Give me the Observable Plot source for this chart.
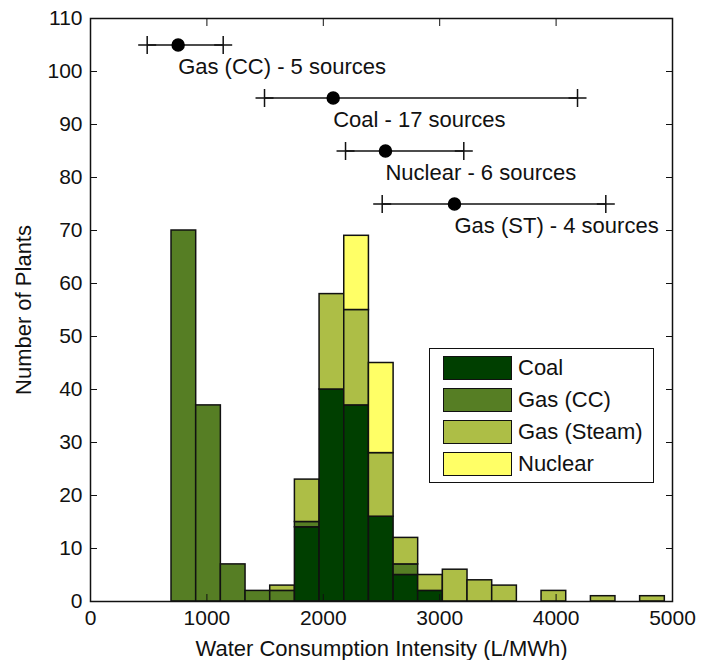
<!DOCTYPE html>
<html>
<head>
<meta charset="utf-8">
<script src="https://cdn.jsdelivr.net/npm/d3@7"></script>
<script src="https://cdn.jsdelivr.net/npm/@observablehq/plot@0.6"></script>
<style>
  html, body { margin: 0; padding: 0; background: white; }
  #wrap { position: relative; width: 710px; height: 660px; font-family: "Liberation Sans", Arial, sans-serif; }
  #legend { position: absolute; left: 429px; top: 348px; width: 223px; height: 133px; border: 1.5px solid #111; background: white; box-sizing: content-box; }
  .row { position: absolute; left: 13px; height: 24px; display: flex; align-items: center; }
  .sw { width: 67px; height: 22px; border: 1.5px solid #111; margin-right: 6px; }
  .lab { font-size: 22px; color: #111; }
</style>
</head>
<body>
<div id="wrap"></div>
<script>
// Histogram bin edges (L/MWh) and stacked counts per source
const binEdges = [696, 908, 1120, 1332, 1544, 1756, 1968, 2180, 2392, 2604, 2815, 3027, 3239, 3451, 3663, 3875, 4087, 4299, 4510, 4722, 4934];
const coal     = [0, 0, 0, 0, 0, 14, 40, 37, 16, 5, 2, 0, 0, 0, 0, 0, 0, 0, 0, 0];
const gasCC    = [70, 37, 7, 2, 2, 1, 0, 0, 0, 2, 0, 0, 0, 0, 0, 0, 0, 0, 0, 0];
const gasSteam = [0, 0, 0, 0, 1, 8, 18, 18, 12, 5, 3, 6, 4, 3, 0, 2, 0, 1, 0, 1];
const nuclear  = [0, 0, 0, 0, 0, 0, 0, 14, 17, 0, 0, 0, 0, 0, 0, 0, 0, 0, 0, 0];
const seriesNames = ["Coal", "Gas (CC)", "Gas (Steam)", "Nuclear"];
const seriesColors = ["#003f00", "#567e24", "#adbe46", "#ffff66"];

// Literature ranges (error bars)
const srcLabels = ["Gas (CC) - 5 sources", "Coal - 17 sources", "Nuclear - 6 sources", "Gas (ST) - 4 sources"];
const srcY    = [105, 95, 85, 75];
const srcMean = [753, 2085, 2534, 3127];
const srcLow  = [487, 1495, 2191, 2506];
const srcHigh = [1140, 4184, 3207, 4427];

const xTicks = [0, 1000, 2000, 3000, 4000, 5000];
const yTicks = [0, 10, 20, 30, 40, 50, 60, 70, 80, 90, 100, 110];
const xLabel = "Water Consumption Intensity (L/MWh)";
const yLabel = "Number of Plants";

const seriesValues = [coal, gasCC, gasSteam, nuclear];
const bars = [];
for (let i = 0; i < binEdges.length - 1; i++) {
  seriesNames.forEach((name, s) => {
    bars.push({x1: binEdges[i], x2: binEdges[i + 1], count: seriesValues[s][i], source: name});
  });
}
const barsNZ = bars.filter(d => d.count > 0);
const sources = srcLabels.map((t, i) => ({label: t, y: srcY[i], mean: srcMean[i], lo: srcLow[i], hi: srcHigh[i]}));
const ends = sources.flatMap(d => [{x: d.lo, y: d.y}, {x: d.hi, y: d.y}]);

const thinPlus = {
  draw(ctx, size) {
    const r = Math.sqrt(size / Math.PI);
    ctx.moveTo(-r, 0); ctx.lineTo(r, 0);
    ctx.moveTo(0, -r); ctx.lineTo(0, r);
  }
};

const chart = Plot.plot({
  width: 710,
  height: 660,
  marginLeft: 90,
  marginRight: 38,
  marginTop: 18,
  marginBottom: 59,
  style: {fontFamily: "'Liberation Sans', Arial, sans-serif", fontSize: "21px", color: "#111", background: "white"},
  x: {domain: [0, 5000]},
  y: {domain: [0, 110]},
  color: {domain: seriesNames, range: seriesColors},
  marks: [
    Plot.rectY(barsNZ, Plot.stackY({x1: "x1", x2: "x2", y: "count", fill: "source", order: seriesNames, stroke: "#111", strokeWidth: 1.5})),
    Plot.frame({stroke: "#111", strokeWidth: 1.5}),
    Plot.axisX(xTicks, {anchor: "bottom", tickSize: -7, tickPadding: 16, fontSize: 21, tickFormat: d => String(d), label: null}),
    Plot.axisX(xTicks, {anchor: "top", tickSize: -7, tickFormat: () => "", label: null}),
    Plot.axisY(yTicks, {anchor: "left", tickSize: -7, tickPadding: 15, fontSize: 21, tickFormat: d => String(d), label: null}),
    Plot.axisY(yTicks, {anchor: "right", tickSize: -7, tickFormat: () => "", label: null}),
    Plot.link(sources, {x1: "lo", x2: "hi", y1: "y", y2: "y", stroke: "#111", strokeWidth: 1.5}),
    Plot.dot(ends, {x: "x", y: "y", symbol: thinPlus, r: 9, stroke: "#111", strokeWidth: 1.5, fill: "none"}),
    Plot.dot(sources, {x: "mean", y: "y", r: 6, fill: "black", stroke: "black"}),
    Plot.text(sources, {x: "mean", y: "y", text: "label", dy: 22, textAnchor: "start", lineAnchor: "middle", fontSize: 22, fill: "#111"}),
    Plot.text([xLabel], {frameAnchor: "bottom", text: d => d, dy: 47, textAnchor: "middle", lineAnchor: "middle", fontSize: 22, fill: "#111"}),
    Plot.text([yLabel], {frameAnchor: "left", text: d => d, dx: -67, rotate: -90, textAnchor: "middle", lineAnchor: "middle", fontSize: 22, fill: "#111"})
  ]
});

const wrap = document.getElementById("wrap");
wrap.appendChild(chart);

const legend = document.createElement("div");
legend.id = "legend";
const rowTops = [7, 39, 71, 103];
seriesNames.forEach((name, i) => {
  const row = document.createElement("div");
  row.className = "row";
  row.style.top = rowTops[i] + "px";
  const sw = document.createElement("div");
  sw.className = "sw";
  sw.style.background = seriesColors[i];
  const lab = document.createElement("span");
  lab.className = "lab";
  lab.textContent = name;
  row.appendChild(sw);
  row.appendChild(lab);
  legend.appendChild(row);
});
wrap.appendChild(legend);
</script>
</body>
</html>
